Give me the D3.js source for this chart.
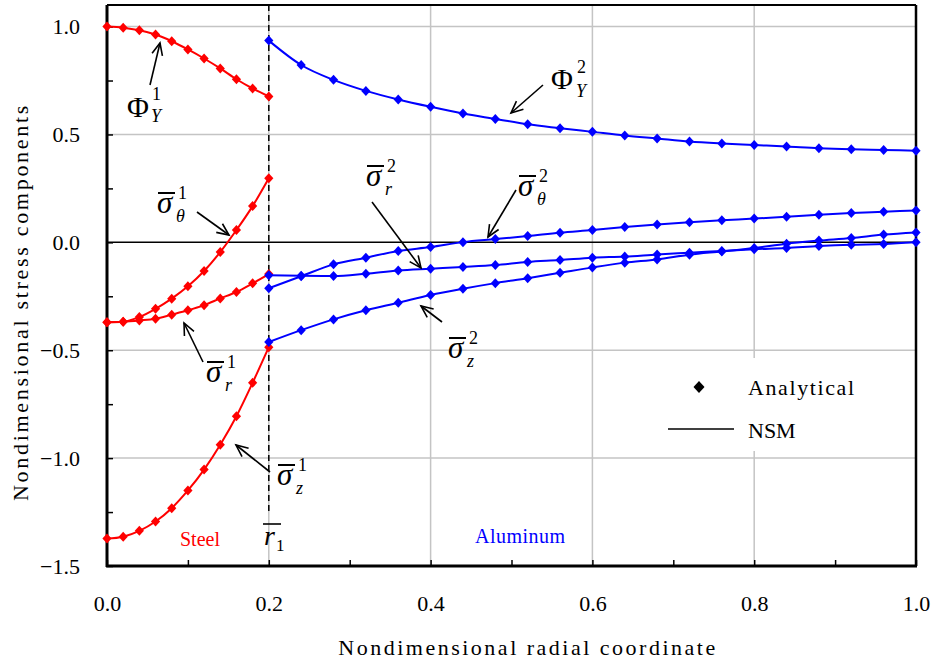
<!DOCTYPE html>
<html><head><meta charset="utf-8">
<script src="https://cdn.jsdelivr.net/npm/d3@7/dist/d3.min.js"></script>
<style>body{margin:0;background:#fff}svg{display:block}text{font-family:"Liberation Serif","Times New Roman",serif}</style>
</head><body><svg id="c" width="937" height="666"></svg>
<script>
// ---- data ----
const xSteel = [0, 0.02, 0.04, 0.06, 0.08, 0.10, 0.12, 0.14, 0.16, 0.18, 0.20];
const xAlum = [0.20, 0.24, 0.28, 0.32, 0.36, 0.40, 0.44, 0.48, 0.52, 0.56, 0.60, 0.64, 0.68, 0.72, 0.76, 0.80, 0.84, 0.88, 0.92, 0.96, 1.00];
const phiY1 = [1.000, 0.995, 0.983, 0.963, 0.932, 0.894, 0.852, 0.806, 0.756, 0.713, 0.676];
const sigTheta1 = [-0.370, -0.368, -0.346, -0.308, -0.261, -0.204, -0.133, -0.045, 0.057, 0.168, 0.297];
const sigR1 = [-0.370, -0.368, -0.362, -0.354, -0.335, -0.315, -0.291, -0.260, -0.230, -0.190, -0.147];
const sigZ1 = [-1.373, -1.364, -1.337, -1.294, -1.232, -1.150, -1.053, -0.938, -0.806, -0.651, -0.486];
const phiY2 = [0.935, 0.822, 0.753, 0.702, 0.662, 0.628, 0.597, 0.572, 0.547, 0.529, 0.512, 0.495, 0.481, 0.467, 0.458, 0.451, 0.444, 0.436, 0.431, 0.428, 0.425];
const sigTheta2 = [-0.213, -0.157, -0.102, -0.071, -0.040, -0.022, 0.001, 0.015, 0.029, 0.045, 0.057, 0.071, 0.083, 0.093, 0.102, 0.110, 0.119, 0.128, 0.136, 0.142, 0.148];
const sigR2 = [-0.152, -0.155, -0.156, -0.145, -0.130, -0.122, -0.114, -0.105, -0.091, -0.082, -0.071, -0.066, -0.056, -0.048, -0.040, -0.032, -0.026, -0.017, -0.011, -0.008, 0.000];
const sigZ2 = [-0.462, -0.407, -0.357, -0.315, -0.280, -0.244, -0.215, -0.189, -0.166, -0.141, -0.116, -0.094, -0.079, -0.057, -0.042, -0.026, -0.006, 0.008, 0.020, 0.036, 0.046];
const xTicks = [0, 0.2, 0.4, 0.6, 0.8, 1.0];
const xMinor = [0.1, 0.3, 0.5, 0.7, 0.9];
const yTicks = [1.0, 0.5, 0.0, -0.5, -1.0, -1.5];
const yMinor = [0.75, 0.25, -0.25, -0.75, -1.25];
const xTitle = "Nondimensional radial coordinate";
const yTitle = "Nondimensional stress  components";

// ---- chart ----
const svg = d3.select("#c");
const L = 107, R = 916, T = 5, B = 566;
const x = d3.scaleLinear().domain([0, 1]).range([L, R]);
const y = d3.scaleLinear().domain([-1.5, 1.1]).range([B, T]);

// gridlines
const g = svg.append("g");
g.selectAll(".hg").data([1.0, 0.5, -0.5, -1.0]).join("line")
  .attr("x1", L).attr("x2", R).attr("y1", d => y(d)).attr("y2", d => y(d))
  .attr("stroke", "#c4c4c4").attr("stroke-width", 1.5);
g.selectAll(".vg").data([0.2, 0.4, 0.6, 0.8]).join("line")
  .attr("y1", T).attr("y2", B).attr("x1", d => x(d)).attr("x2", d => x(d))
  .attr("stroke", "#c4c4c4").attr("stroke-width", 1.5);
g.append("line").attr("x1", L).attr("x2", R).attr("y1", y(0)).attr("y2", y(0))
  .attr("stroke", "#000").attr("stroke-width", 1.5);

// legend background (hides grid)
svg.append("rect").attr("x", 664).attr("y", 358).attr("width", R - 664 - 1).attr("height", 93).attr("fill", "#fff");

// interface dashed line
svg.append("line").attr("x1", x(0.2)).attr("x2", x(0.2)).attr("y1", T).attr("y2", 511)
  .attr("stroke", "#000").attr("stroke-width", 1.5).attr("stroke-dasharray", "6,4");

// axes
const tickFont = 22;
const xAxis = d3.axisBottom(x).tickValues(xTicks).tickSize(-6).tickFormat(d3.format(".1f")).tickPadding(29);
const xAx = svg.append("g").attr("transform", `translate(0,${B})`).call(xAxis);
xAx.attr("font-family", null).attr("font-size", null);
xAx.select(".domain").remove();
xAx.selectAll(".tick line").attr("stroke-width", 1.5);
xAx.selectAll("text").attr("font-size", tickFont).attr("fill", "#000");
const xm = svg.append("g").attr("transform", `translate(0,${B})`).call(d3.axisBottom(x).tickValues(xMinor).tickSize(-6).tickFormat(""));
xm.select(".domain").remove(); xm.selectAll(".tick line").attr("stroke-width", 1.5);

const yAxis = d3.axisLeft(y).tickValues(yTicks).tickSize(-6).tickFormat(d3.format(".1f")).tickPadding(27);
const yAx = svg.append("g").attr("transform", `translate(${L},0)`).call(yAxis);
yAx.attr("font-family", null).attr("font-size", null);
yAx.select(".domain").remove();
yAx.selectAll(".tick line").attr("stroke-width", 1.5);
yAx.selectAll("text").attr("font-size", tickFont).attr("fill", "#000");
const ym = svg.append("g").attr("transform", `translate(${L},0)`).call(d3.axisLeft(y).tickValues(yMinor).tickSize(-6).tickFormat(""));
ym.select(".domain").remove(); ym.selectAll(".tick line").attr("stroke-width", 1.5);

// frame
svg.append("line").attr("x1", L).attr("x2", R).attr("y1", T).attr("y2", T).attr("stroke", "#000").attr("stroke-width", 2);
svg.append("line").attr("x1", R).attr("x2", R).attr("y1", T).attr("y2", B).attr("stroke", "#000").attr("stroke-width", 2.5);
svg.append("line").attr("x1", L).attr("x2", L).attr("y1", T).attr("y2", B + 1).attr("stroke", "#000").attr("stroke-width", 3);
svg.append("line").attr("x1", L - 1).attr("x2", R + 1).attr("y1", B).attr("y2", B).attr("stroke", "#000").attr("stroke-width", 3);

// titles
svg.append("text").attr("x", 528).attr("y", 655).attr("text-anchor", "middle")
  .attr("font-size", 22).attr("letter-spacing", 2.5).text(xTitle);
svg.append("text").attr("transform", `translate(28,302) rotate(-90)`).attr("text-anchor", "middle")
  .attr("font-size", 22).attr("letter-spacing", 2.7).text(yTitle);

// series
const series = [
  {xs: xSteel, ys: phiY1, c: "#ff0000"},
  {xs: xSteel, ys: sigTheta1, c: "#ff0000"},
  {xs: xSteel, ys: sigR1, c: "#ff0000"},
  {xs: xSteel, ys: sigZ1, c: "#ff0000"},
  {xs: xAlum, ys: phiY2, c: "#0000ff"},
  {xs: xAlum, ys: sigTheta2, c: "#0000ff"},
  {xs: xAlum, ys: sigR2, c: "#0000ff"},
  {xs: xAlum, ys: sigZ2, c: "#0000ff"}
];
const line = d3.line().x(d => x(d[0])).y(d => y(d[1])).curve(d3.curveMonotoneX);
const diamond = "M0,-5L4.6,0L0,5L-4.6,0Z";
series.forEach(s => {
  const pts = s.xs.map((v, i) => [v, s.ys[i]]);
  svg.append("path").attr("d", line(pts)).attr("fill", "none").attr("stroke", s.c).attr("stroke-width", 2);
  svg.append("g").selectAll("path").data(pts).join("path")
    .attr("d", diamond).attr("transform", d => `translate(${x(d[0])},${y(d[1])})`).attr("fill", s.c);
});

// annotations
function arrow(x1, y1, x2, y2) {
  svg.append("line").attr("x1", x1).attr("y1", y1).attr("x2", x2).attr("y2", y2)
    .attr("stroke", "#000").attr("stroke-width", 1.6);
  const a = Math.atan2(y2 - y1, x2 - x1), len = 13, spread = 0.42;
  const p = [[x2 - len * Math.cos(a - spread), y2 - len * Math.sin(a - spread)], [x2, y2],
             [x2 - len * Math.cos(a + spread), y2 - len * Math.sin(a + spread)]];
  svg.append("path").attr("d", "M" + p.join("L")).attr("fill", "none").attr("stroke", "#000").attr("stroke-width", 1.6);
}
function sym(xp, yp, main, sup, sub) {
  svg.append("text").attr("x", xp).attr("y", yp).attr("font-size", 31).attr("font-style", "italic").text(main);
  const w = 18;
  svg.append("line").attr("x1", xp + 1).attr("x2", xp + w).attr("y1", yp - 20).attr("y2", yp - 20)
    .attr("stroke", "#000").attr("stroke-width", 2);
  svg.append("text").attr("x", xp + w + 3).attr("y", yp - 14).attr("font-size", 18).text(sup);
  svg.append("text").attr("x", xp + w + 1).attr("y", yp + 9).attr("font-size", 18).attr("font-style", "italic").text(sub);
}
// Phi_Y^1
svg.append("text").attr("x", 127).attr("y", 117).attr("font-size", 30).text("Φ");
svg.append("text").attr("x", 152).attr("y", 100).attr("font-size", 18).text("1");
svg.append("text").attr("x", 151).attr("y", 122).attr("font-size", 18).attr("font-style", "italic").text("Y");
arrow(150, 85, 160, 43);
// Phi_Y^2
svg.append("text").attr("x", 551).attr("y", 89).attr("font-size", 30).text("Φ");
svg.append("text").attr("x", 577).attr("y", 73).attr("font-size", 18).text("2");
svg.append("text").attr("x", 576).attr("y", 97).attr("font-size", 18).attr("font-style", "italic").text("Y");
arrow(543, 85, 511, 113);
// sigma labels
sym(157, 213, "σ", "1", "θ");  arrow(197, 212, 229, 235);
sym(206, 382, "σ", "1", "r");  arrow(203, 362, 184, 323);
sym(277, 485, "σ", "1", "z");  arrow(270, 472, 236, 445);
sym(366, 186, "σ", "2", "r");  arrow(372, 202, 421, 268);
sym(518, 196, "σ", "2", "θ");  arrow(516, 190, 488, 237);
sym(448, 358, "σ", "2", "z");  arrow(442, 322, 421, 306);
// r1 bar
svg.append("text").attr("x", 264).attr("y", 545).attr("font-size", 28).attr("font-style", "italic").text("r");
svg.append("line").attr("x1", 263).attr("x2", 281).attr("y1", 524).attr("y2", 524).attr("stroke", "#000").attr("stroke-width", 1.6);
svg.append("text").attr("x", 276).attr("y", 551).attr("font-size", 17).text("1");
// material labels
svg.append("text").attr("x", 180).attr("y", 546).attr("font-size", 20).attr("fill", "#ff0000").text("Steel");
svg.append("text").attr("x", 475).attr("y", 543).attr("font-size", 20).attr("letter-spacing", 0.5).attr("fill", "#0000ff").text("Aluminum");

// legend
svg.append("path").attr("d", diamond).attr("transform", "translate(699,387) scale(1.2)").attr("fill", "#000");
svg.append("text").attr("x", 748).attr("y", 395).attr("font-size", 22).attr("letter-spacing", 1.6).text("Analytical");
svg.append("line").attr("x1", 668).attr("x2", 734).attr("y1", 429).attr("y2", 429).attr("stroke", "#000").attr("stroke-width", 1.6);
svg.append("text").attr("x", 748).attr("y", 438).attr("font-size", 22).text("NSM");
</script></body></html>
